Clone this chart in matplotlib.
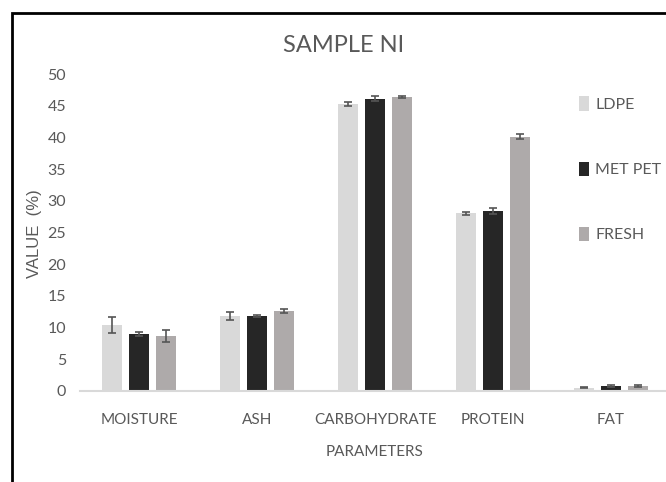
import matplotlib.pyplot as plt
import numpy as np
from matplotlib.patches import Rectangle

# values
categories = ['MOISTURE', 'ASH', 'CARBOHYDRATE', 'PROTEIN', 'FAT']
series = ['LDPE', 'MET PET', 'FRESH']
ldpe = [10.4, 11.8, 45.3, 28.0, 0.5]
met_pet = [9.0, 11.8, 46.1, 28.4, 0.8]
fresh = [8.7, 12.6, 46.4, 40.1, 0.8]
ldpe_err = [1.3, 0.6, 0.3, 0.3, 0.1]
met_pet_err = [0.3, 0.2, 0.4, 0.5, 0.2]
fresh_err = [1.0, 0.3, 0.2, 0.4, 0.2]
yticks = [0, 5, 10, 15, 20, 25, 30, 35, 40, 45, 50]

colors = ['#d9d9d9', '#262626', '#aeaaaa']
txt = '#595959'
fam = ['Lato', 'DejaVu Sans']

fig = plt.figure(figsize=(6.66, 4.82), dpi=100)
ax = fig.add_axes([80 / 666, 1 - 391 / 482, 590 / 666, (391 - 74) / 482])

x = np.arange(len(categories))
w = 0.17
step = 0.225
vals = [ldpe, met_pet, fresh]
errs = [ldpe_err, met_pet_err, fresh_err]
for i, (v, e) in enumerate(zip(vals, errs)):
    ax.bar(x + (i - 1) * step, v, w, color=colors[i], label=series[i],
           yerr=e, error_kw=dict(ecolor='#555555', elinewidth=1.2, capsize=3, capthick=1.2))

ax.set_xlim(-0.5, 4.5)
ax.set_ylim(0, 50)
ax.set_yticks(yticks)
ax.set_yticklabels([str(t) for t in yticks], family=fam, fontsize=11.5, color=txt)
ax.set_xticks(x)
ax.set_xticklabels(categories, family=fam, fontsize=11, color=txt)
ax.tick_params(length=0)
ax.tick_params(axis='y', pad=10)
ax.tick_params(axis='x', pad=16)
for s in ['top', 'right', 'left']:
    ax.spines[s].set_visible(False)
ax.spines['bottom'].set_color('#d9d9d9')
ax.spines['bottom'].set_linewidth(1.5)

ax.set_xlabel('PARAMETERS', family=fam, fontsize=11, color=txt, labelpad=13)
fig.text(34 / 666, 1 - 234 / 482, 'VALUE  (%)', rotation=90, ha='center', va='center',
         family='Liberation Sans', fontsize=12, color=txt)
fig.text(344 / 666, 1 - 45 / 482, 'SAMPLE NI', ha='center', va='center',
         family=fam, fontsize=17, color=txt)

leg = fig.legend(loc='upper left', bbox_to_anchor=(565 / 666, 1 - 82 / 482), frameon=False,
                 prop={'family': fam, 'size': 11.5}, labelspacing=3.1,
                 handlelength=0.6, handleheight=1.0, handletextpad=0.4)
for t in leg.get_texts():
    t.set_color(txt)

# outer frame
fig.patches.append(Rectangle((12 / 666, -0.1), 1.2, 1 - 13 / 482 + 0.1, transform=fig.transFigure,
                             fill=False, edgecolor='black', linewidth=2))

fig.savefig('out.png', dpi=100)
